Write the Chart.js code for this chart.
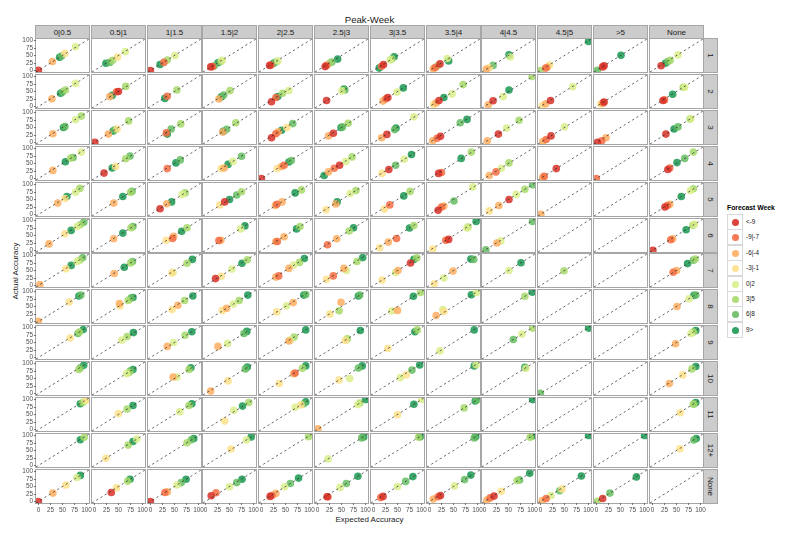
<!DOCTYPE html>
<html><head><meta charset="utf-8">
<script src="https://cdn.jsdelivr.net/npm/chart.js@4.4.1/dist/chart.umd.min.js"></script>
<style>
html,body{margin:0;padding:0;background:#fff;}
body{width:800px;height:533px;overflow:hidden;font-family:"Liberation Sans",Arial,sans-serif;}
#root{position:relative;width:800px;height:533px;}
.panel{position:absolute;background:#fff;border:1px solid #a6a6a6;box-sizing:border-box;}
.strip{position:absolute;background:#cccccc;border:1px solid #a6a6a6;box-sizing:border-box;font-size:8px;color:#1a1a1a;display:flex;align-items:center;justify-content:center;white-space:nowrap;}
.strip.r span{display:inline-block;transform:rotate(90deg);}
canvas{position:absolute;pointer-events:none;}
.txt{position:absolute;white-space:nowrap;color:#000;}
.key{position:absolute;width:16px;height:16px;box-sizing:border-box;border:1px solid #d9d9d9;background:#fff;}
.dot{position:absolute;left:4px;top:4px;width:7px;height:7px;border-radius:50%;}
</style></head>
<body><div id="root"></div>
<script>
// ---------- categories / labels ----------
const peakWeekCols = ['0|0.5','0.5|1','1|1.5','1.5|2','2|2.5','2.5|3','3|3.5','3.5|4','4|4.5','4.5|5','>5','None'];
const peakWeekRows = ['1','2','3','4','5','6','7','8','9','10','11','12+','None'];
const forecastWeeks = ['<-9','-9|-7','-6|-4','-3|-1','0|2','3|5','6|8','9>'];
const accuracyTicks = [0,25,50,75,100];

// ---------- values: each point = [forecastWeekIndex, expectedAccuracy, actualAccuracy] ----------
const row1 = [
 [[0,0,1],[2,29,30],[7,44,44],[6,48,48],[3,55,57],[4,77,79]],
 [[7,24,24],[6,32,27],[5,38,34],[3,48,45],[4,64,63]],
 [[0,0,0],[7,20,20],[1,28,27],[5,35,35],[4,51,50]],
 [[0,11,12],[1,15,13],[6,18,15],[7,26,26],[5,32,30],[4,35,34]],
 [[0,17,17],[1,20,18],[7,25,24],[6,30,28],[4,34,32]],
 [[0,16,13],[1,19,17],[5,26,25],[6,30,28],[7,42,38]],
 [[7,12,8],[1,17,14],[0,21,20],[4,35,35],[5,38,38],[7,43,46]],
 [[2,8,6],[1,12,10],[5,17,16],[0,22,22],[4,37,40],[7,40,32]],
 [[2,4,5],[3,10,9],[6,18,17],[7,51,52],[4,54,45]],
 [[5,0,0],[1,11,8],[2,14,11],[3,19,18],[7,100,97]],
 [[6,2,1],[0,13,12],[0,16,16],[7,51,51]],
 [[0,18,16],[7,27,24],[6,32,30],[5,37,34],[4,53,52]]
];
const row2 = [
 [[2,28,26],[7,46,44],[6,50,48],[5,56,55],[4,77,77]],
 [[2,32,33],[7,37,37],[1,46,49],[0,50,50],[5,65,67]],
 [[7,30,27],[1,35,34],[5,55,55]],
 [[2,28,25],[7,33,32],[6,38,38],[5,51,53]],
 [[0,21,16],[1,30,30],[7,34,33],[5,44,44],[4,57,53]],
 [[0,19,20],[4,51,52],[7,55,58],[6,57,55]],
 [[2,20,18],[1,26,26],[0,30,30],[4,49,48],[7,62,62]],
 [[3,9,7],[2,14,12],[0,20,20],[7,30,30],[4,47,42],[5,70,73]],
 [[2,8,6],[0,18,19],[4,39,33],[7,51,55],[5,99,100]],
 [[3,4,3],[2,11,9],[0,21,20],[4,67,66]],
 [[3,9,8],[1,14,12],[0,16,15]],
 [[0,22,20],[1,25,22],[7,42,41],[5,64,64],[4,67,64]]
];
const row3 = [
 [[2,30,29],[7,52,50],[6,55,53],[4,77,76],[5,89,88]],
 [[0,1,1],[2,29,28],[7,39,38],[6,42,42],[3,47,45],[5,71,72]],
 [[1,33,32],[7,35,28],[6,43,45],[5,63,62]],
 [[2,36,35],[7,37,37],[6,44,44],[5,63,66]],
 [[0,21,16],[1,30,29],[2,35,36],[7,42,41],[3,53,50],[6,65,63]],
 [[2,23,22],[0,33,31],[7,49,50],[6,52,52],[5,64,64]],
 [[2,17,16],[0,28,27],[6,44,43],[7,47,48],[4,84,86]],
 [[2,7,6],[1,16,14],[0,23,21],[6,64,66],[7,78,77]],
 [[2,6,6],[0,29,28],[4,46,48],[5,72,74]],
 [[2,5,3],[1,12,10],[0,22,22],[4,50,52]],
 [[0,2,1],[1,11,6],[2,20,16]],
 [[0,28,28],[7,45,45],[6,53,52],[5,78,78],[4,80,80]]
];
const row4 = [
 [[2,30,27],[7,56,56],[5,67,68],[6,72,70],[4,89,88]],
 [[0,20,18],[7,37,35],[3,44,40],[5,65,66],[6,74,75]],
 [[1,35,33],[7,53,52],[6,62,62]],
 [[3,33,33],[2,39,35],[7,47,47],[4,57,57],[6,75,74]],
 [[0,0,0],[3,33,33],[2,42,40],[1,47,44],[7,57,55],[6,62,60]],
 [[7,14,10],[2,23,22],[1,35,34],[0,46,44],[4,59,57],[5,72,72]],
 [[3,18,17],[0,32,30],[6,46,44],[4,64,64],[7,79,80]],
 [[0,19,17],[1,25,20],[7,66,67],[5,87,88]],
 [[2,10,10],[1,24,22],[4,35,34],[5,51,52]],
 [[2,5,4],[1,8,7],[0,33,33]],
 [[1,0,0]],
 [[0,32,30],[1,36,35],[7,51,53],[6,67,67],[5,85,88]]
];
const row5 = [
 [[2,40,38],[3,55,53],[7,59,60],[4,77,74],[5,86,87]],
 [[2,40,38],[7,59,60],[5,75,74],[6,78,77]],
 [[0,20,19],[2,34,36],[7,44,42],[4,66,67],[5,72,72]],
 [[3,30,32],[0,40,42],[7,50,50],[6,65,65],[5,75,76]],
 [[2,29,30],[1,32,34],[2,43,42],[7,70,72],[5,83,82]],
 [[3,18,16],[2,38,35],[7,41,42],[4,68,70],[5,80,80]],
 [[3,23,18],[1,34,32],[7,63,62],[5,76,77]],
 [[0,18,14],[1,25,25],[2,30,28],[6,51,45],[4,90,92]],
 [[3,10,12],[2,30,30],[0,51,50],[4,66,67],[5,84,84],[6,100,99]],
 [[2,1,1]],
 [],
 [[0,26,25],[1,31,30],[2,36,34],[7,60,60],[4,79,80],[5,85,86]]
];
const row6 = [
 [[2,22,22],[3,55,56],[7,68,67],[4,80,80],[5,87,86],[6,94,94]],
 [[2,40,39],[7,59,58],[5,76,76],[6,80,80]],
 [[3,33,34],[1,46,40],[2,48,47],[7,65,64],[5,76,76]],
 [[1,28,33],[2,32,34],[4,73,72],[7,82,82]],
 [[2,30,30],[1,33,30],[2,47,46],[7,73,72],[5,80,80]],
 [[1,21,19],[2,40,39],[5,66,65],[7,75,76]],
 [[3,13,9],[2,31,28],[1,48,40],[7,75,75],[5,84,83]],
 [[3,7,5],[1,34,34],[0,40,37],[4,78,75],[5,80,78],[7,97,97]],
 [[6,3,2],[2,26,25],[4,34,32],[6,100,97]],
 [],
 [],
 [[0,1,1],[1,38,36],[2,42,39],[7,70,69],[5,84,84],[4,87,87]]
];
const row7 = [
 [[2,3,3],[3,57,56],[7,68,67],[4,80,80],[5,86,85],[6,92,93]],
 [[2,41,40],[7,62,61],[5,75,75],[6,79,80]],
 [[3,45,42],[4,47,44],[5,76,74],[7,87,87]],
 [[0,21,23],[3,33,31],[4,55,55],[7,76,74],[5,87,86]],
 [[2,30,28],[1,36,32],[2,57,57],[4,67,68],[5,79,77],[7,89,90]],
 [[3,19,21],[1,33,32],[2,55,57],[4,60,50],[5,82,80],[7,94,93]],
 [[3,18,18],[4,46,43],[2,51,50],[0,77,75],[7,84,87],[5,90,92]],
 [[3,10,6],[4,30,25],[2,49,48],[7,86,88],[6,92,87]],
 [[4,51,50],[7,76,76]],
 [[5,49,49]],
 [],
 [[1,43,44],[2,50,50],[7,73,73],[6,85,84],[5,89,88]]
];
const row8 = [
 [[2,0,1],[3,64,65],[7,84,85],[6,88,88]],
 [[2,52,60],[3,53,52],[5,70,70],[6,76,78],[7,80,80]],
 [[3,45,40],[2,57,54],[5,71,70],[7,88,85]],
 [[3,35,37],[2,44,44],[4,58,58],[5,70,70],[7,88,88]],
 [[3,32,32],[4,52,52],[2,66,63],[7,88,88],[6,92,90]],
 [[3,26,25],[5,45,36],[2,49,64],[7,85,85],[6,88,88]],
 [[4,38,35],[2,50,37],[7,83,84],[5,98,97]],
 [[2,14,20],[4,28,40],[3,30,33],[7,87,89],[4,98,97]],
 [[5,84,84],[7,99,98]],
 [],
 [],
 [[2,51,50],[4,76,76],[7,86,87],[6,90,88]]
];
const row9 = [
 [[3,66,65],[6,82,80],[5,85,85],[7,93,93]],
 [[4,57,58],[5,68,70],[7,81,83]],
 [[2,35,37],[4,48,50],[5,72,74],[7,86,86]],
 [[2,26,37],[4,46,47],[6,80,80],[7,86,87]],
 [[2,57,55],[4,60,58],[5,68,68],[7,92,92]],
 [[3,58,57],[5,62,62],[7,89,90]],
 [[3,30,30],[7,86,86],[5,91,92]],
 [[4,22,22],[7,93,92]],
 [[6,60,60],[4,78,78],[5,100,98]],
 [[7,100,98]],
 [],
 [[2,48,46],[4,80,80],[5,85,85],[7,90,90]]
];
const row10 = [
 [[5,84,80],[6,87,86],[7,94,94]],
 [[4,67,66],[5,72,70],[6,75,76],[7,80,80]],
 [[2,47,55],[4,55,55],[5,80,80],[7,84,86]],
 [[2,11,8],[3,47,42],[6,83,82],[7,87,88]],
 [[3,37,33],[2,67,66],[1,70,68],[5,85,84],[7,92,92]],
 [[3,45,45],[4,67,50],[6,85,85],[7,93,92]],
 [[4,56,53],[3,68,62],[6,80,78],[7,96,95]],
 [[7,93,92],[4,97,96]],
 [[7,84,87],[4,86,84]],
 [[6,0,1]],
 [],
 [[2,35,33],[3,63,62],[5,82,82],[7,90,90]]
];
const row11 = [
 [[7,87,86],[5,92,90],[4,97,96],[3,100,100]],
 [[3,50,53],[5,68,68],[7,80,80]],
 [[4,61,59],[5,80,80],[7,86,86]],
 [[3,40,28],[4,59,64],[7,77,78],[5,90,90]],
 [[4,70,74],[3,82,82],[6,88,86],[7,92,92]],
 [[2,1,2],[4,84,83],[5,88,88],[7,100,100]],
 [[3,50,49],[7,84,84],[4,100,100]],
 [[5,72,72],[7,95,95],[6,98,98]],
 [[7,100,100]],
 [],
 [],
 [[3,58,56],[5,85,84],[6,87,86],[7,90,90]]
];
const row12plus = [
 [[7,87,86],[5,95,94]],
 [[3,24,24],[5,70,68],[7,80,80],[4,88,88]],
 [[5,76,76],[6,85,86],[7,90,90]],
 [[3,53,55],[4,85,85],[7,95,95]],
 [[5,98,96]],
 [[4,22,22],[6,92,92],[7,96,95]],
 [[5,94,94],[7,97,96]],
 [[6,93,92],[7,96,96]],
 [[5,95,94],[7,100,99]],
 [[7,100,100]],
 [[7,100,100]],
 [[3,57,56],[6,86,85],[7,91,90]]
];
const rowNone = [
 [[0,0,0],[2,30,28],[3,57,55],[4,80,80],[7,87,87]],
 [[0,35,30],[3,46,46],[5,69,68],[7,74,74]],
 [[0,0,0],[1,30,30],[2,35,32],[4,55,55],[6,64,63],[7,74,74]],
 [[0,12,19],[1,22,29],[4,50,49],[6,65,63],[7,76,74]],
 [[0,18,17],[1,22,20],[2,30,27],[4,48,49],[6,60,60],[7,77,78]],
 [[0,20,16],[1,22,16],[4,47,47],[6,60,60],[7,84,84]],
 [[1,15,13],[0,20,17],[4,50,50],[6,67,67],[7,82,83]],
 [[2,8,8],[1,18,16],[0,23,20],[4,52,52],[6,73,73],[7,86,88]],
 [[2,5,5],[1,12,12],[0,20,18],[3,35,34],[5,68,70],[6,73,72],[7,94,94]],
 [[2,4,3],[1,12,10],[4,22,20],[6,40,36],[3,45,42],[7,85,85]],
 [[5,2,1],[0,13,10],[6,28,28],[7,83,82]],
 []
];
const panelRows = [row1,row2,row3,row4,row5,row6,row7,row8,row9,row10,row11,row12plus,rowNone];

// ---------- styling / layout ----------
const PALETTE = ['#d73027','#f46d43','#fdae61','#fee08b','#d9ef8b','#a6d96a','#66bd63','#1a9850'];
const FONT = '"Liberation Sans", Arial, sans-serif';
const AX_MIN = -5, AX_MAX = 105;
const X0 = 36, COL_PITCH = 55.8, PW = 53;
const Y0 = 39, ROW_PITCH = 35.9, PH = 33;
const EXT = 8, AXW = 36, AXH = 14;

function rgba(hex, a){const n=parseInt(hex.slice(1),16);return `rgba(${n>>16},${(n>>8)&255},${n&255},${a})`;}
const root = document.getElementById('root');
function el(cls, css, html){const d=document.createElement('div');d.className=cls;Object.assign(d.style,css);if(html!==undefined)d.innerHTML=html;root.appendChild(d);return d;}

const colLeft = c => Math.round(X0 + c*COL_PITCH);
const rowTop = r => Math.round(Y0 + r*ROW_PITCH);
const nR = peakWeekRows.length, nC = peakWeekCols.length;

// titles
el('txt',{left:'0px',width:(2*369.5)+'px',top:'14px',textAlign:'center',fontSize:'9.6px',color:'#1a1a1a'},'Peak-Week');
el('txt',{left:'0px',width:(2*369.5)+'px',top:'515px',textAlign:'center',fontSize:'8px',color:'#1a1a1a'},'Expected Accuracy');
el('txt',{left:'15px',top:'271px',fontSize:'8px',color:'#1a1a1a',transform:'translate(-50%,-50%) rotate(-90deg)'},'Actual Accuracy');

// strips + panel frames
for(let c=0;c<nC;c++){
  el('strip',{left:(colLeft(c)-1)+'px',top:'25px',width:(PW+2)+'px',height:'14px'},peakWeekCols[c]);
}
for(let r=0;r<nR;r++){
  el('strip r',{left:(colLeft(nC-1)+PW)+'px',top:(rowTop(r)-1)+'px',width:'15px',height:(PH+2)+'px'},'<span>'+peakWeekRows[r]+'</span>');
  for(let c=0;c<nC;c++){
    el('panel',{left:(colLeft(c)-1)+'px',top:(rowTop(r)-1)+'px',width:(PW+2)+'px',height:(PH+2)+'px'});
  }
}

// legend
el('txt',{left:'727px',top:'204px',fontSize:'6.8px',fontWeight:'bold',color:'#000'},'Forecast Week');
forecastWeeks.forEach((lab,i)=>{
  const t = Math.round(214 + i*15.4);
  const k = el('key',{left:'727px',top:t+'px'});
  const d = document.createElement('div'); d.className='dot'; d.style.background=rgba(PALETTE[i],0.9); k.appendChild(d);
  el('txt',{left:'746px',top:(t+4)+'px',fontSize:'6.4px',color:'#1a1a1a'},lab.replace(/</g,'&lt;').replace(/>/g,'&gt;'));
});

// charts
const tickFont = {size:6.4, family:FONT};
function makeChart(r,c){
  const pts = panelRows[r][c];
  const showX = r===nR-1, showY = c===0;
  const leftExt = showY ? AXW : EXT;
  const botExt = showX ? AXH : EXT;
  const cv = document.createElement('canvas');
  const w = PW + leftExt + EXT, h = PH + EXT + botExt;
  cv.width = w; cv.height = h;
  cv.style.left = (colLeft(c)-leftExt)+'px'; cv.style.top = (rowTop(r)-EXT)+'px';
  cv.style.width = w+'px'; cv.style.height = h+'px';
  root.appendChild(cv);
  const datasets = [{
    type:'line', showLine:true, data:[{x:AX_MIN,y:AX_MIN},{x:AX_MAX,y:AX_MAX}],
    borderColor:'#222', borderWidth:0.7, borderDash:[2.2,2.8], pointRadius:0, fill:false, clip:0
  }];
  for(let k=0;k<forecastWeeks.length;k++){
    const d = pts.filter(p=>p[0]===k).map(p=>({x:p[1],y:p[2]}));
    if(!d.length) continue;
    datasets.push({type:'scatter', label:forecastWeeks[k], data:d, showLine:false,
      backgroundColor:rgba(PALETTE[k],0.85), borderWidth:0, pointRadius:3.8, clip:0});
  }
  const axisCommon = (show, isX) => ({
    type:'linear', min:AX_MIN, max:AX_MAX, display:show,
    afterBuildTicks: s => { s.ticks = accuracyTicks.map(v=>({value:v})); },
    afterFit: s => { if(!show) return; if(isX) s.height = AXH; else s.width = AXW; },
    ticks:{font:tickFont, color:'#4d4d4d', padding:1, maxRotation:0, autoSkip:false},
    grid:{display:true, drawOnChartArea:false, drawTicks:true, tickLength:2, color:'#555', lineWidth:0.8},
    border:{display:false}
  });
  new Chart(cv, {
    type:'scatter',
    data:{datasets},
    options:{
      responsive:false, animation:false, devicePixelRatio:1, events:[],
      layout:{padding:{left:showY?0:EXT, right:EXT, top:EXT, bottom:showX?0:EXT}},
      plugins:{legend:{display:false}, tooltip:{enabled:false}},
      scales:{ x:axisCommon(showX,true), y:axisCommon(showY,false) }
    }
  });
}
for(let r=0;r<nR;r++) for(let c=0;c<nC;c++) makeChart(r,c);
</script>
</body></html>
